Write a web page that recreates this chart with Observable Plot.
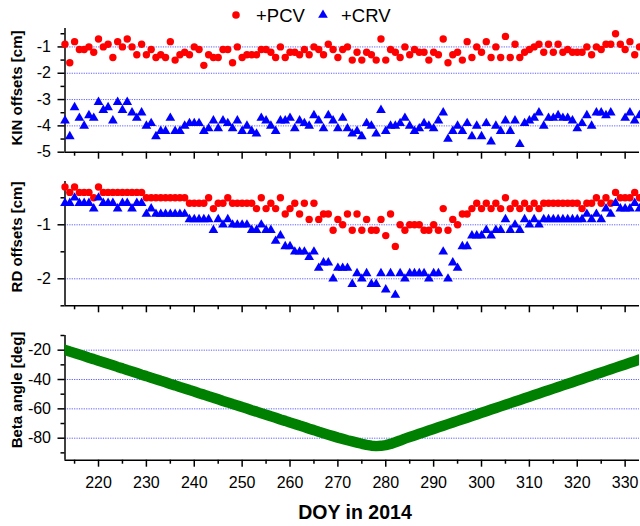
<!DOCTYPE html>
<html><head><meta charset="utf-8">
<script src="https://cdn.jsdelivr.net/npm/d3@7"></script>
<script src="https://cdn.jsdelivr.net/npm/@observablehq/plot@0.6"></script>
<style>
body{margin:0;background:#fff;}
#wrap{position:relative;width:640px;height:526px;overflow:hidden;font-family:"Liberation Sans",Arial,sans-serif;color:#000;}
.panel{position:absolute;left:0;}
.ytitle{position:absolute;font-weight:bold;font-size:15px;white-space:nowrap;transform:translate(-50%,-50%) rotate(-90deg);}
.xtitle{position:absolute;font-weight:bold;font-size:19.5px;white-space:nowrap;transform:translate(-50%,-50%);}
#legend{position:absolute;left:0;top:0;}
</style></head><body><div id="wrap"></div><script>
// ---- data (DOY 213..333, daily) ----
const doy = d3.range(213, 334);
const kinPCV = [
-0.9,-1.6,-0.8,-1.1,-1.1,-1.0,-1.2,-0.7,-1.0,-0.9,
-1.4,-0.8,-1.0,-0.7,-1.0,-1.3,-0.9,-1.3,-1.1,-1.4,
-1.3,-1.4,-0.8,-1.5,-1.3,-1.2,-1.3,-1.0,-1.1,-1.7,
-1.3,-1.4,-1.4,-1.1,-1.1,-1.6,-1.0,-1.4,-1.3,-1.3,
-1.3,-1.1,-1.1,-1.2,-1.4,-1.0,-1.4,-1.2,-1.2,-1.3,
-1.1,-1.3,-1.0,-1.1,-1.3,-0.9,-1.1,-1.4,-1.1,-1.0,
-1.5,-1.2,-1.5,-1.2,-1.3,-1.5,-0.7,-1.5,-1.1,-1.2,
-1.4,-1.0,-1.3,-1.1,-1.2,-1.2,-1.5,-1.2,-1.3,-0.7,
-1.6,-1.3,-1.2,-1.5,-0.8,-1.4,-1.0,-1.2,-0.8,-1.4,
-1.0,-1.4,-0.6,-1.4,-0.9,-1.4,-1.2,-1.1,-1.0,-0.9,
-1.2,-0.9,-1.2,-0.9,-1.2,-1.1,-1.2,-1.2,-1.2,-1.0,
-1.3,-1.0,-1.1,-0.9,-0.9,-0.5,-0.9,-1.1,-0.8,-1.3,
-1.0];
const kinCRV = [
-3.8,-4.4,-3.3,-3.7,-4.0,-3.6,-3.7,-3.1,-3.4,-3.3,
-3.8,-3.1,-3.4,-3.1,-3.5,-3.7,-3.5,-4.0,-3.9,-4.4,
-4.2,-4.2,-3.7,-4.2,-4.2,-4.0,-3.9,-3.9,-3.9,-4.2,
-4.1,-3.8,-4.1,-3.8,-3.9,-4.1,-3.8,-4.2,-4.0,-4.2,
-4.3,-3.7,-3.8,-4.0,-4.2,-3.8,-3.8,-3.7,-4.1,-3.8,
-3.9,-4.0,-3.6,-3.8,-4.1,-3.6,-3.8,-4.1,-3.7,-4.1,
-4.3,-4.2,-4.4,-3.9,-4.0,-4.3,-3.4,-4.2,-4.0,-4.0,
-3.9,-3.7,-4.0,-4.2,-4.1,-3.9,-4.0,-4.1,-3.8,-3.5,
-4.5,-4.2,-4.0,-4.2,-3.9,-4.4,-4.0,-4.4,-3.9,-4.6,
-4.0,-4.2,-3.8,-4.2,-3.8,-4.7,-3.9,-3.8,-3.7,-3.5,
-4.0,-3.7,-3.7,-3.6,-3.7,-3.7,-3.8,-4.1,-3.9,-3.6,
-4.0,-3.5,-3.5,-3.6,-3.5,null,null,-3.7,-3.5,-3.8,
-3.6];
const rdPCV = [
-0.3,-0.4,-0.3,-0.4,-0.4,-0.4,-0.5,-0.3,-0.4,-0.4,
-0.4,-0.4,-0.4,-0.4,-0.4,-0.4,-0.4,-0.5,-0.5,-0.5,
-0.5,-0.5,-0.5,-0.5,-0.5,-0.5,-0.6,-0.6,-0.6,-0.6,
-0.5,-0.7,-0.6,-0.6,-0.5,-0.6,-0.6,-0.6,-0.6,-0.6,
-0.7,-0.5,-0.7,-0.6,-0.7,-0.5,-0.8,-0.7,-0.6,-0.8,
-0.6,-0.9,-0.6,-0.9,-0.8,-0.8,-1.1,-0.9,-1.0,-0.8,
-1.1,-0.8,-1.1,-0.9,-1.1,-1.1,-0.9,-1.2,-0.8,-1.4,
-1.0,-1.1,-1.0,-1.0,-1.0,-1.1,-1.1,-1.0,-1.1,-0.7,
-1.1,-0.9,-1.0,-0.8,-0.8,-0.7,-0.6,-0.7,-0.6,-0.7,
-0.6,-0.7,-0.5,-0.7,-0.6,-0.7,-0.6,-0.7,-0.6,-0.7,
-0.6,-0.6,-0.6,-0.6,-0.6,-0.6,-0.6,-0.6,-0.7,-0.6,
-0.6,-0.5,-0.6,-0.5,-0.6,-0.4,-0.5,-0.5,-0.5,-0.4,
-0.5];
const rdCRV = [
-0.6,-0.6,-0.5,-0.6,-0.6,-0.6,-0.7,-0.5,-0.6,-0.6,
-0.6,-0.7,-0.6,-0.6,-0.7,-0.6,-0.6,-0.8,-0.7,-0.8,
-0.8,-0.8,-0.8,-0.8,-0.8,-0.8,-0.9,-0.9,-0.9,-0.9,
-0.9,-1.1,-0.9,-1.0,-0.9,-1.0,-1.0,-1.0,-1.0,-1.1,
-1.1,-1.0,-1.1,-1.1,-1.3,-1.2,-1.4,-1.4,-1.5,-1.5,
-1.5,-1.6,-1.5,-1.8,-1.7,-1.7,-2.0,-1.8,-1.8,-1.8,
-2.1,-1.9,-2.0,-1.9,-2.1,-2.1,-1.9,-2.2,-1.9,-2.3,
-1.9,-2.0,-1.9,-1.9,-1.9,-1.9,-2.0,-1.9,-1.9,-1.5,
-2.0,-1.7,-1.8,-1.4,-1.4,-1.2,-1.2,-1.2,-1.1,-1.2,
-1.1,-1.1,-0.9,-1.1,-1.0,-1.1,-0.9,-1.0,-0.9,-1.0,
-0.9,-0.9,-0.9,-0.9,-0.9,-0.9,-0.9,-0.9,-0.9,-0.8,
-0.9,-0.8,-0.9,-0.7,-0.8,-0.6,-0.7,-0.7,-0.7,-0.6,
-0.7];
const beta = [
-19.8,-20.9,-21.9,-23.0,-24.0,-25.1,-26.1,-27.2,-28.2,-29.3,
-30.3,-31.4,-32.4,-33.5,-34.5,-35.6,-36.7,-37.7,-38.8,-39.8,
-40.9,-41.9,-43.0,-44.0,-45.1,-46.1,-47.2,-48.2,-49.3,-50.3,
-51.4,-52.4,-53.5,-54.6,-55.6,-56.7,-57.7,-58.8,-59.8,-60.9,
-61.9,-63.0,-64.0,-65.1,-66.1,-67.2,-68.2,-69.3,-70.3,-71.4,
-72.4,-73.5,-74.5,-75.6,-76.6,-77.6,-78.6,-79.6,-80.5,-81.4,
-82.2,-83.0,-83.8,-84.5,-85.1,-85.4,-85.2,-84.7,-83.9,-82.8,
-81.6,-80.3,-79.2,-78.1,-77.0,-75.9,-74.8,-73.7,-72.6,-71.5,
-70.4,-69.3,-68.2,-67.1,-66.0,-64.9,-63.8,-62.7,-61.6,-60.5,
-59.4,-58.3,-57.2,-56.1,-55.0,-53.9,-52.8,-51.7,-50.6,-49.5,
-48.4,-47.3,-46.2,-45.1,-44.0,-42.9,-41.8,-40.7,-39.6,-38.5,
-37.4,-36.3,-35.2,-34.1,-33.0,-31.9,-30.8,-29.7,-28.6,-27.5,
-26.4];

const xMajor = [220,230,240,250,260,270,280,290,300,310,320,330];
const xMinor = [215,225,235,245,255,265,275,285,295,305,315,325];
const kinTicks = [-1,-2,-3,-4,-5];
const kinMinor = [-0.5,-1.5,-2.5,-3.5,-4.5];
const kinGrid = [-1,-2,-3,-4];
const rdTicks = [-1,-2];
const rdMinor = [-0.5,-1.5,-2.5];
const rdGrid = [-1,-2];
const betaTicks = [-20,-40,-60,-80];
const betaMinor = [-10,-30,-50,-70,-90];
const betaGrid = [-20,-40,-60,-80];
const seriesNames = ["+PCV", "+CRV"];
const titles = ["KIN offsets [cm]", "RD offsets [cm]", "Beta angle [deg]", "DOY in 2014"];

const RED = "#ff0000", BLUE = "#0000ff", GREEN = "#008000";
const rows = vals => doy.map((d, i) => ({doy: d, v: vals[i]})).filter(r => r.v != null);

const wrap = document.getElementById("wrap");

function panel(o) {
  const p = Plot.plot({
    width: 640, height: o.height,
    marginLeft: 64.5, marginRight: 1, marginTop: o.mt, marginBottom: o.mb,
    x: {domain: [213, 333], axis: null},
    y: {domain: o.yDomain, axis: null},
    style: {fontFamily: "'Liberation Sans', Arial, sans-serif", fontSize: "16px", background: "transparent", overflow: "visible", color: "#000"},
    marks: [
      Plot.gridY(o.grid, {stroke: "#2a2aff", strokeOpacity: 0.85, strokeWidth: 0.9, strokeDasharray: "1.2,1.2"}),
      Plot.axisY(o.yTicks, {tickSize: 7, tickPadding: 7, tickFormat: d => String(d), strokeWidth: 1.5, label: null, fontSize: 16}),
      Plot.axisY(o.yMinor, {tickSize: 4, tickFormat: () => "", strokeWidth: 1.5, label: null}),
      Plot.axisX(xMajor, {tickSize: 7, tickPadding: 9, tickFormat: o.xLabels ? (d => String(d)) : (() => ""), strokeWidth: 1.5, label: null, fontSize: 16}),
      Plot.axisX(xMinor, {tickSize: 4, tickFormat: () => "", strokeWidth: 1.5, label: null}),
      Plot.ruleX([213], {stroke: "#000", strokeWidth: 1.5}),
      Plot.ruleY([o.yDomain[0]], {stroke: "#000", strokeWidth: 1.5}),
      ...o.marks
    ]
  });
  const div = document.createElement("div");
  div.className = "panel";
  div.style.top = o.top + "px";
  div.appendChild(p);
  wrap.appendChild(div);
}

panel({top: 20, height: 145, mt: 8, mb: 13.3, yDomain: [-5, -0.3], yTicks: kinTicks, yMinor: kinMinor, grid: kinGrid,
  marks: [
    Plot.dot(rows(kinPCV), {x: "doy", y: "v", r: 3.7, fill: RED}),
    Plot.dot(rows(kinCRV), {x: "doy", y: "v", r: 3.6, symbol: "triangle", fill: BLUE})
  ]});

panel({top: 170, height: 150, mt: 11.1, mb: 14.7, yDomain: [-2.5, -0.2], yTicks: rdTicks, yMinor: rdMinor, grid: rdGrid,
  marks: [
    Plot.dot(rows(rdPCV), {x: "doy", y: "v", r: 3.7, fill: RED}),
    Plot.dot(rows(rdCRV), {x: "doy", y: "v", r: 3.6, symbol: "triangle", fill: BLUE})
  ]});

panel({top: 325, height: 201, mt: 10, mb: 66.3, yDomain: [-95, -10], yTicks: betaTicks, yMinor: betaMinor, grid: betaGrid, xLabels: true,
  marks: [
    Plot.line(rows(beta), {x: "doy", y: "v", stroke: GREEN, strokeWidth: 10.5, strokeLinejoin: "round", clip: true})
  ]});

// axis titles
function addText(cls, txt, x, y) {
  const d = document.createElement("div");
  d.className = cls; d.textContent = txt;
  d.style.left = x + "px"; d.style.top = y + "px";
  wrap.appendChild(d);
}
addText("ytitle", titles[0], 16, 88);
addText("ytitle", titles[1], 16, 237);
addText("ytitle", titles[2], 16, 390);
addText("xtitle", titles[3], 355, 512);

// legend
const lg = d3.create("svg").attr("id", "legend").attr("width", 640).attr("height", 30)
  .style("position", "absolute").style("left", "0px").style("top", "0px");
lg.append("circle").attr("cx", 236).attr("cy", 15).attr("r", 3.8).attr("fill", RED);
lg.append("path").attr("d", d3.symbol(d3.symbolTriangle, Math.PI * 3.6 * 3.6)()).attr("transform", "translate(323,15)").attr("fill", BLUE);
lg.append("text").attr("x", 256).attr("y", 22).attr("font-size", 18.5).attr("font-family", "'Liberation Sans', Arial, sans-serif").text(seriesNames[0]);
lg.append("text").attr("x", 341).attr("y", 22).attr("font-size", 18.5).attr("font-family", "'Liberation Sans', Arial, sans-serif").text(seriesNames[1]);
wrap.appendChild(lg.node());
</script></body></html>
